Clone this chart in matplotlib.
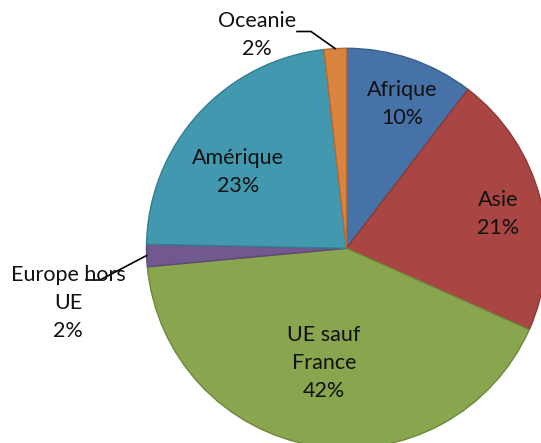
import matplotlib
matplotlib.use("Agg")
import matplotlib.pyplot as plt
import numpy as np

categories = ["Afrique", "Asie", "UE sauf France", "Europe hors UE", "Amérique", "Oceanie"]
values = [10.4, 21.3, 41.9, 1.8, 22.9, 1.8]
pct_labels = ["10%", "21%", "42%", "2%", "23%", "2%"]
label_texts = ["Afrique", "Asie", "UE sauf\nFrance", "Europe hors\nUE", "Amérique", "Oceanie"]
colors = ["#4672A8", "#A94643", "#89A54E", "#71588F", "#4298AF", "#DB843D"]
edges = ["#3A5F8C", "#8C3A38", "#71883F", "#5D4876", "#367D90", "#B56C31"]

W, H = 541, 443
fig = plt.figure(figsize=(W / 100, H / 100), dpi=100)
ax = fig.add_axes([0, 0, 1, 1])
cx, cy, R = 346.5, 248.3, 200.0

def px(x, y):
    return ((x - cx) / R, (cy - y) / R)

wedges, _ = ax.pie(values, colors=colors, startangle=90, counterclock=False,
                   radius=1.0, center=(0, 0),
                   wedgeprops=dict(linewidth=1.0))
for w, ec in zip(wedges, edges):
    w.set_edgecolor(ec)

x0, y1 = px(0, 0)
x1, y0 = px(W, H)
ax.set_xlim(x0, x1)
ax.set_ylim(y0, y1)
ax.set_aspect("equal", adjustable="box")
ax.axis("off")

font = dict(family=["Lato", "DejaVu Sans"], fontsize=15.5, ha="center", va="center",
            linespacing=1.5, color="#111111")

# label centers (pixel layout)
label_pos = [(402, 104.5), (498, 214), (324, 363), (68, 303), (238, 172), (257, 35.5)]
for i, (t, p) in enumerate(zip(label_texts, pct_labels)):
    X, Y = px(*label_pos[i])
    ax.text(X, Y, t + "\n" + p, **font)

# leader lines for small slices
total = sum(values)
cum = np.cumsum([0] + values)
def edge_point(i):
    mid = (cum[i] + cum[i + 1]) / 2 / total
    ang = np.deg2rad(90 - mid * 360)
    return np.cos(ang), np.sin(ang)

# Oceanie
ex, ey = edge_point(5)
a = px(297, 31.5); b = px(311, 31.5)
ax.plot([a[0], b[0], ex], [a[1], b[1], ey], color="black", lw=1.2)
# Europe hors UE
ex, ey = edge_point(3)
a = px(86, 280); b = px(100, 280)
ax.plot([a[0], b[0], ex], [a[1], b[1], ey], color="black", lw=1.2)

fig.savefig("out.png", dpi=100)
